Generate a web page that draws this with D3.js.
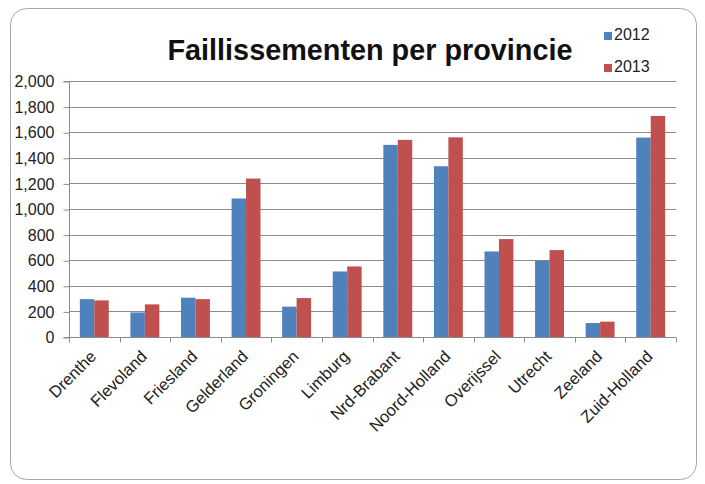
<!DOCTYPE html>
<html><head><meta charset="utf-8">
<script src="https://cdn.jsdelivr.net/npm/d3@7"></script>
<style>body{margin:0;background:#fff;}svg{display:block;font-family:"Liberation Sans",Arial,sans-serif;}</style>
</head><body>
<svg id="c" width="705" height="484"></svg>
<script>
const categories = ["Drenthe","Flevoland","Friesland","Gelderland","Groningen","Limburg","Nrd-Brabant","Noord-Holland","Overijssel","Utrecht","Zeeland","Zuid-Holland"];
const series = ["2012","2013"];
const values2012 = [296,192,307,1082,237,512,1501,1334,668,596,109,1558];
const values2013 = [286,255,296,1238,304,551,1540,1560,765,679,120,1727];
const yTicks = [0,200,400,600,800,1000,1200,1400,1600,1800,2000];
const colors = ["#4F81BD","#C0504D"];

const svg = d3.select("#c");
svg.append("rect").attr("x",10.5).attr("y",8.5).attr("width",686).attr("height",471)
  .attr("rx",16).attr("fill","#fff").attr("stroke","#a6a6a6").attr("stroke-width",1);

const pL=69, pR=676, pT=81, pB=337;
const x = d3.scaleBand().domain(categories).range([pL,pR]).padding(0);
const y = d3.scaleLinear().domain([0,2000]).range([pB,pT]);
const groupW = x.bandwidth()*2/3.5;
const xs = d3.scaleBand().domain(series).range([0,groupW]).padding(0);

// gridlines
svg.append("g").selectAll("line").data(yTicks.filter(d=>d>0)).join("line")
  .attr("x1",pL).attr("x2",pR).attr("y1",d=>Math.round(y(d))+0.5).attr("y2",d=>Math.round(y(d))+0.5)
  .attr("stroke","#8c8c8c").attr("stroke-width",1);

// bars
const data = [values2012, values2013];
series.forEach((s,si)=>{
  svg.append("g").selectAll("rect").data(categories).join("rect")
    .attr("x",(c)=>x(c)+(x.bandwidth()-groupW)/2+xs(s))
    .attr("width",xs.bandwidth())
    .attr("y",(c,i)=>y(data[si][i]))
    .attr("height",(c,i)=>pB-y(data[si][i]))
    .attr("fill",colors[si]);
});

// y axis
const yAxis = d3.axisLeft(y).tickValues(yTicks).tickSize(6).tickPadding(9).tickFormat(d3.format(","));
const gy = svg.append("g").attr("transform",`translate(${pL+0.5},0.5)`).call(yAxis);
gy.select(".domain").attr("stroke","#8c8c8c").attr("d",`M-6,${pT}H0V${pB}H-6`);
gy.selectAll(".tick line").attr("stroke","#8c8c8c");
gy.selectAll("text").attr("font-size",16).attr("fill","#222").attr("font-family","Liberation Sans, Arial, sans-serif");

// x axis
const gx = svg.append("g").attr("transform",`translate(0,${pB+0.5})`);
gx.append("line").attr("x1",pL).attr("x2",pR).attr("stroke","#8c8c8c");
gx.selectAll("line.t").data(categories.concat(["_end"])).join("line").attr("class","t")
  .attr("x1",(c,i)=>Math.round(pL+i*x.step())+0.5).attr("x2",(c,i)=>Math.round(pL+i*x.step())+0.5)
  .attr("y1",0).attr("y2",5).attr("stroke","#8c8c8c");
gx.selectAll("text").data(categories).join("text")
  .attr("transform",c=>`translate(${x(c)+x.bandwidth()/2+3},${20}) rotate(-45)`)
  .attr("text-anchor","end").attr("font-size",16.5).attr("fill","#222").text(c=>c);

// title
svg.append("text").attr("x",370).attr("y",60).attr("text-anchor","middle")
  .attr("font-size",30).attr("font-weight","bold").attr("fill","#111")
  .attr("textLength",405).attr("lengthAdjust","spacingAndGlyphs").text("Faillissementen per provincie");

// legend
const lg = svg.append("g");
series.forEach((s,i)=>{
  lg.append("rect").attr("x",604).attr("y",32+i*32).attr("width",8).attr("height",8).attr("fill",colors[i]);
  lg.append("text").attr("x",614).attr("y",40+i*32).attr("font-size",16).attr("fill","#222").text(s);
});
</script>
</body></html>
